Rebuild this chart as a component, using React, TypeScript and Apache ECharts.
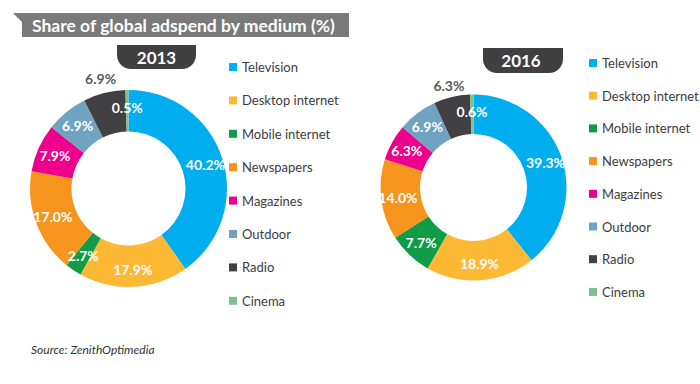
import React, { useEffect, useRef } from "react";
import * as echarts from "echarts";

const categories = [
  "Television",
  "Desktop internet",
  "Mobile internet",
  "Newspapers",
  "Magazines",
  "Outdoor",
  "Radio",
  "Cinema",
];
const share2013 = [40.2, 17.9, 2.7, 17.0, 7.9, 6.9, 6.9, 0.5];
const share2016 = [39.3, 18.9, 7.7, 14.0, 6.3, 6.9, 6.3, 0.6];
const years = ["2013", "2016"];
const colors = [
  "#00aeef",
  "#fdb933",
  "#0f9b48",
  "#f7941d",
  "#ec008c",
  "#6fa3c0",
  "#414042",
  "#80c08f",
];
const title = "Share of global adspend by medium (%)";
const source = "Source: ZenithOptimedia";
const outsideLabelName = "Radio";

const FONT = "Lato, 'Open Sans', sans-serif";

function fmt(p: any) {
  return Number(p.value).toFixed(1) + "%";
}

function mainSeries(values: number[], center: number[], radius: number[]) {
  return {
    type: "pie",
    center,
    radius,
    startAngle: 90,
    clockwise: true,
    silent: true,
    label: {
      show: true,
      position: "inside",
      formatter: fmt,
      color: "#ffffff",
      fontFamily: FONT,
      fontWeight: "bold",
      fontSize: 14,
    },
    labelLine: { show: false },
    data: categories.map((name, i) => ({
      name,
      value: values[i],
      itemStyle: { color: colors[i] },
      label: { show: name !== outsideLabelName },
    })),
  };
}

function overlaySeries(values: number[], center: number[], radius: number[]) {
  return {
    type: "pie",
    center,
    radius,
    startAngle: 90,
    clockwise: true,
    silent: true,
    legendHoverLink: false,
    itemStyle: { color: "rgba(0,0,0,0)" },
    label: {
      show: true,
      position: "inside",
      formatter: fmt,
      color: "#595959",
      fontFamily: FONT,
      fontWeight: "bold",
      fontSize: 14,
    },
    labelLine: { show: false },
    data: categories.map((name, i) => ({
      name,
      value: values[i],
      label: { show: name === outsideLabelName },
    })),
  };
}

export default function App() {
  const ref = useRef<HTMLDivElement>(null);
  useEffect(() => {
    if (!ref.current) return;
    const chart = echarts.init(ref.current, undefined, { renderer: "svg" });
    const legendBase = {
      orient: "vertical",
      padding: 0,
      icon: "rect",
      itemWidth: 8,
      itemHeight: 8,
      itemGap: 17,
      itemTextGap: 5,
      selectedMode: false,
      data: categories,
      textStyle: {
        fontFamily: FONT,
        fontSize: 13,
        color: "#3c3c3c",
        lineHeight: 16,
      },
    };
    chart.setOption({
      animation: false,
      backgroundColor: "#ffffff",
      legend: [
        { ...legendBase, left: 229, top: 59, itemGap: 17.4 },
        { ...legendBase, left: 589, top: 55, itemGap: 16.7 },
      ],
      graphic: [
        {
          type: "polygon",
          shape: {
            points: [
              [13, 13],
              [349, 13],
              [349, 37],
              [22, 37],
              [22, 22],
            ],
          },
          style: { fill: "#7a7a7a" },
        },
        {
          type: "text",
          style: {
            text: title,
            x: 32,
            y: 25,
            verticalAlign: "middle",
            fill: "#ffffff",
            font: "bold 17.5px " + FONT,
          },
        },
        {
          type: "rect",
          shape: { x: 117, y: 45, width: 79, height: 24, r: [0, 0, 14, 14] },
          style: { fill: "#404040" },
        },
        {
          type: "text",
          style: {
            text: years[0],
            x: 156.5,
            y: 57,
            align: "center",
            verticalAlign: "middle",
            fill: "#ffffff",
            font: "bold 17px " + FONT,
          },
        },
        {
          type: "rect",
          shape: { x: 483, y: 48, width: 80, height: 25, r: [0, 0, 14, 14] },
          style: { fill: "#404040" },
        },
        {
          type: "text",
          style: {
            text: years[1],
            x: 521,
            y: 60,
            align: "center",
            verticalAlign: "middle",
            fill: "#ffffff",
            font: "bold 17px " + FONT,
          },
        },
        {
          type: "text",
          style: {
            text: source,
            x: 31,
            y: 349,
            verticalAlign: "middle",
            fill: "#333333",
            font: "italic 12px " + FONT,
          },
        },
      ],
      series: [
        mainSeries(share2013, [128.5, 188.5], [57, 98.5]),
        mainSeries(share2016, [473.5, 187.5], [53.5, 93]),
        overlaySeries(share2013, [128.5, 188.5], [99, 122]),
        overlaySeries(share2016, [473.5, 187.5], [93.5, 111]),
      ],
    });
    return () => chart.dispose();
  }, []);
  return (
    <div
      ref={ref}
      style={{ position: "absolute", left: 0, top: 0, width: 700, height: 384 }}
    />
  );
}
